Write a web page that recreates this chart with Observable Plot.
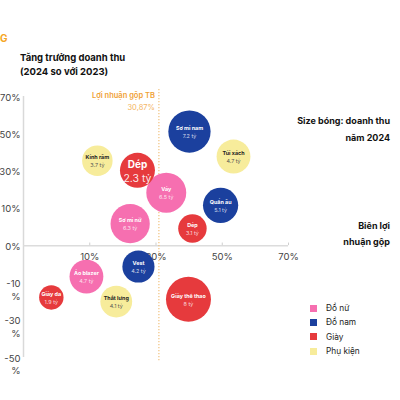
<!DOCTYPE html>
<html>
<head>
<meta charset="utf-8">
<script src="https://cdn.jsdelivr.net/npm/d3@7"></script>
<script src="https://cdn.jsdelivr.net/npm/@observablehq/plot@0.6"></script>
<style>
  html, body { margin: 0; padding: 0; background: #fff; }
  body { width: 400px; height: 400px; position: relative; overflow: hidden; font-family: Inter, "Noto Sans", sans-serif; color: #111; }
  #logo { position: absolute; left: 0; top: 32px; font-size: 10px; font-weight: 700; color: #f5a623; }
  #title { position: absolute; left: 20px; top: 51px; font-size: 9.5px; font-weight: 700; line-height: 14px; }
  #header { height: 76px; }
  .note { position: absolute; right: 10px; text-align: right; font-size: 9px; font-weight: 700; }
  #legend { position: absolute; left: 310px; top: 301px; font-size: 8.3px; color: #222; }
  #legend .row { display: flex; align-items: center; height: 14.3px; }
  #legend .sw { width: 7px; height: 7px; margin-right: 9px; }
  #chart svg { display: block; }
</style>
</head>
<body>
<div id="header"></div>
<div id="logo">G</div>
<div id="title"></div>
<div id="chart"></div>
<div class="note" id="sizeNote" style="top:112px; line-height:17px;"></div>
<div class="note" id="xNote" style="top:218px; line-height:16px;"></div>
<div id="legend"></div>
<script>
// ---- Data ----
const titleLines = ["Tăng trưởng doanh thu", "(2024 so với 2023)"];
const sizeNoteLines = ["Size bóng: doanh thu", "năm 2024"];
const xNoteLines = ["Biên lợi", "nhuận gộp"];
const avgLabel = "Lợi nhuận gộp TB";
const avgValueLabel = "30,87%";
const avgMargin = 30.87;

const groups = ["Đồ nữ", "Đồ nam", "Giày", "Phụ kiện"];
const groupColors = ["#f66fb0", "#1b409e", "#e63a3d", "#f7ec9b"];

const names   = ["Sơ mi nam", "Túi xách", "Kính râm", "Dép", "Váy", "Sơ mi nữ", "Quần âu", "Dép", "Vest", "Áo blazer", "Giày da", "Thắt lưng", "Giày thể thao"];
const cats    = ["Đồ nam", "Phụ kiện", "Phụ kiện", "Giày", "Đồ nữ", "Đồ nữ", "Đồ nam", "Giày", "Đồ nam", "Đồ nữ", "Giày", "Phụ kiện", "Giày"];
const margin  = [40.1, 53.4, 12.3, 24.4, 33.1, 22.2, 49.5, 41.0, 24.7, 9.0, -1.6, 18.0, 39.8];   // Biên lợi nhuận gộp (%)
const growth  = [51.2, 37.8, 35.6, 30.4, 18.4, 5.9, 11.6, 4.6, -5.6, -8.3, -17.8, -20.0, -18.8];  // Tăng trưởng doanh thu (%)
const revenue = [7.2, 4.7, 3.7, 2.3, 6.5, 6.3, 5.1, 3.1, 4.2, 4.7, 1.9, 4.1, 8.0];              // Doanh thu 2024 (tỷ)
const highlightIndex = 3;

const xTicks = [10, 30, 50, 70];
const yTicks = [-50, -30, -10, 0, 10, 30, 50, 70];
const yTickLabels = ["-50\n%", "-30\n%", "-10\n%", "0%", "10%", "30%", "50%", "70%"];

// ---- Build ----
const data = names.map((n, i) => ({
  name: n, group: cats[i], margin: margin[i], growth: growth[i], revenue: revenue[i],
  label: `${revenue[i]} tỷ`, hi: i === highlightIndex
}));
// axis has evenly spaced (non-linear) labels: map values onto tick index space
const yIdx = d3.scaleLinear().domain(yTicks).range(d3.range(yTicks.length));
const yOf = d => yIdx(d.growth);
const dark = d => d.group === "Phụ kiện";

document.getElementById("title").innerHTML = titleLines.join("<br>");
document.getElementById("sizeNote").innerHTML = sizeNoteLines.join("<br>");
document.getElementById("xNote").innerHTML = xNoteLines.join("<br>");
document.getElementById("legend").innerHTML = groups.map((g, i) =>
  `<div class="row"><div class="sw" style="background:${groupColors[i]}"></div><span>${g}</span></div>`).join("");

const normal = data.filter(d => !d.hi);
const hi = data.filter(d => d.hi);

const chart = Plot.plot({
  width: 400,
  height: 324,
  marginLeft: 23,
  marginRight: 112,
  marginTop: 20,
  marginBottom: 43,
  style: { fontFamily: "Inter, 'Noto Sans', sans-serif", background: "transparent" },
  x: { domain: [-10, 70], axis: null },
  y: { domain: [0, yTicks.length - 1], axis: null },
  r: { type: "linear", domain: [0, 8], range: [9, 22.5] },
  color: { domain: groups, range: groupColors },
  marks: [
    Plot.ruleX([-10], { stroke: "#d9d9d9", strokeWidth: 1.5 }),
    Plot.ruleY([0], { y: d => yIdx(d), stroke: "#dcdcdc", strokeWidth: 1.5 }),
    Plot.ruleX(xTicks, { x: d => d, y1: () => yIdx(0), y2: () => yIdx(0) + 0.07, stroke: "#cfcfcf", strokeWidth: 1 }),
    Plot.ruleX([avgMargin], { stroke: "#f1c27f", strokeWidth: 1.2, strokeDasharray: "1.2 1.8", insetTop: -7, insetBottom: -5 }),
    Plot.text([avgMargin], { x: d => d, frameAnchor: "top", text: () => avgLabel, textAnchor: "end", dx: -4, dy: -3.5, fontSize: 7.5, fontWeight: 600, fill: "#f0a134" }),
    Plot.text([avgMargin], { x: d => d, frameAnchor: "top", text: () => avgValueLabel, textAnchor: "end", dx: -4, dy: 8.5, fontSize: 7.5, fill: "#f4b563" }),
    Plot.text(yTicks, { frameAnchor: "left", y: d => yIdx(d), text: (d, i) => yTickLabels[i], textAnchor: "end", lineAnchor: "top", lineHeight: 1.35, dx: -3, dy: -5, fontSize: 9.5, fill: "#444" }),
    Plot.text(xTicks, { x: d => d, y: () => yIdx(0), text: d => `${d}%`, dy: 11, fontSize: 9.5, fill: "#444" }),
    Plot.dot(normal, { x: "margin", y: yOf, r: "revenue", fill: "group", fillOpacity: 1 }),
    // emphasised bubble drawn larger as a highlight style
    Plot.dot(hi, { x: "margin", y: yOf, r: 17.5, fill: "group", fillOpacity: 1 }),
    Plot.text(normal, { x: "margin", y: yOf, text: "name", dy: -3, fontSize: 5.4, fontWeight: 700, fill: d => dark(d) ? "#222" : "#fff" }),
    Plot.text(normal, { x: "margin", y: yOf, text: "label", dy: 4.5, fontSize: 5.4, fill: d => dark(d) ? "#555" : "rgba(255,255,255,0.8)" }),
    Plot.text(hi, { x: "margin", y: yOf, text: "name", dy: -5.5, fontSize: 10, fontWeight: 700, fill: "#fff" }),
    Plot.text(hi, { x: "margin", y: yOf, text: "label", dy: 8, fontSize: 10.5, fill: "rgba(255,255,255,0.9)" })
  ]
});
document.getElementById("chart").appendChild(chart);
</script>
</body>
</html>
